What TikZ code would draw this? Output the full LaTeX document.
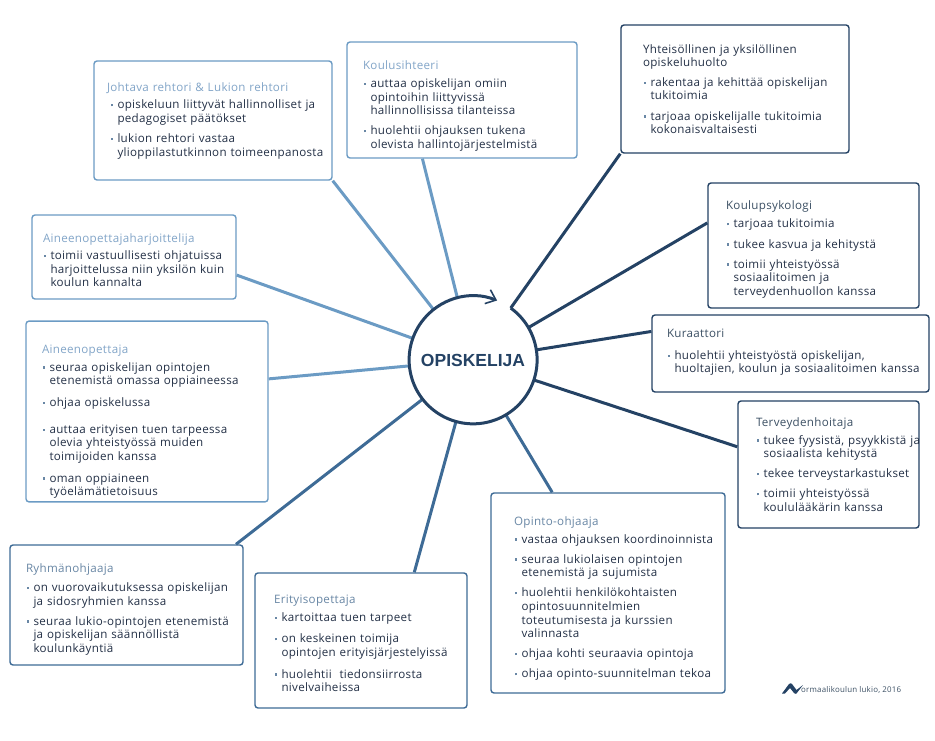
\documentclass[tikz,border=0pt]{standalone}
\usepackage{fontspec}
\setmainfont[LetterSpace=2.7]{Open Sans}
\newfontfamily\opisfont{Liberation Sans}
\usepackage{xcolor}
\definecolor{rolelight}{RGB}{107,155,196}
\definecolor{rolemid}{RGB}{62,107,150}
\definecolor{roledark}{RGB}{36,66,100}
\definecolor{titlelight}{RGB}{130,165,200}
\definecolor{titlemid}{RGB}{105,135,165}
\definecolor{titledark}{RGB}{60,80,100}
\definecolor{roletext}{RGB}{35,48,70}
\usetikzlibrary{arrows.meta,positioning,calc}
\newcommand{\bul}[1]{\mbox{\makebox[7.5pt][l]{\hspace*{0.5pt}\raisebox{2.5pt}{\textcolor{titlemid}{\rule{2.2pt}{2.2pt}}}}#1}}
\newcommand{\ind}[1]{\mbox{\hspace*{7.5pt}#1}}
\newcommand{\ttl}[3]{\mbox{\rule{0pt}{#1}\textcolor{#2}{#3}}}

\begin{document}
\begin{tikzpicture}[
  x=1pt,y=1pt,
  role/.style={draw,rounded corners=3pt,line width=1.4pt,fill=white,text=roletext,
    font=\fontsize{11.6}{13.6}\selectfont,align=left},
  spoke/.style={line width=3pt}
]
  \useasboundingbox (0,0) rectangle (935,740);
  % Center
  \node[circle,minimum size=128pt,inner sep=0pt,text=roledark,font=\fontsize{17.5}{20}\opisfont\bfseries] (opis) at (473,380) {OPISKELIJA};
  % Left column
  \node[role,draw=rolelight,minimum width=238pt,minimum height=119pt,inner xsep=16pt,text width=206pt] (rehtori) at (213,619.5) {
    \ttl{9pt}{titlelight}{\hspace*{-3pt}Johtava rehtori \& Lukion rehtori}\\[4pt]
    \bul{opiskeluun liittyvät hallinnolliset ja}\\
    \ind{pedagogiset päätökset}\\[6.5pt]
    \bul{lukion rehtori vastaa}\\
    \ind{ylioppilastutkinnon toimeenpanosta}
  };
  \node[role,draw=rolelight,minimum width=204pt,minimum height=84pt,inner xsep=11pt,text width=182pt] (harj) at (134,483) {
    \ttl{15pt}{titlelight}{Aineenopettajaharjoittelija}\\[4pt]
    \bul{toimii vastuullisesti ohjatuissa}\\
    \ind{harjoittelussa niin yksilön kuin}\\
    \ind{koulun kannalta}
  };
  \node[role,draw=rolelight,minimum width=242pt,minimum height=179pt,inner xsep=16pt,text width=210pt] (aine) at (147,328.5) {
    \ttl{29pt}{titlelight}{Aineenopettaja}\\[4pt]
    \bul{seuraa opiskelijan opintojen}\\
    \ind{etenemistä omassa oppiaineessa}\\[8pt]
    \bul{ohjaa opiskelussa}\\[13.5pt]
    \bul{auttaa erityisen tuen tarpeessa}\\
    \ind{olevia yhteistyössä muiden}\\
    \ind{toimijoiden kanssa}\\[8pt]
    \bul{oman oppiaineen}\\
    \ind{työelämätietoisuus}
  };
  \node[role,draw=rolemid,minimum width=233pt,minimum height=120pt,inner xsep=16pt,text width=201pt] (ryhma) at (126.5,135) {
    \ttl{18pt}{titlemid}{Ryhmänohjaaja}\\[5pt]
    \bul{on vuorovaikutuksessa opiskelijan}\\
    \ind{ja sidosryhmien kanssa}\\[6.5pt]
    \bul{seuraa lukio-opintojen etenemistä}\\
    \ind{ja opiskelijan säännöllistä}\\
    \ind{koulunkäyntiä}
  };
  \node[role,draw=rolemid,minimum width=212pt,minimum height=135pt,inner xsep=19pt,text width=174pt] (erit) at (361,99.5) {
    \ttl{14.5pt}{titlemid}{Erityisopettaja}\\[4pt]
    \bul{kartoittaa tuen tarpeet}\\[8pt]
    \bul{on keskeinen toimija}\\
    \ind{opintojen erityisjärjestelyissä}\\[8pt]
    \bul{huolehtii\ \ tiedonsiirrosta}\\
    \ind{nivelvaiheissa}
  };
  % Top
  \node[role,draw=rolelight,minimum width=230pt,minimum height=116pt,inner xsep=16pt,text width=198pt] (sihteeri) at (462,640) {
    \ttl{21pt}{titlelight}{Koulusihteeri}\\[4pt]
    \bul{auttaa opiskelijan omiin}\\
    \ind{opintoihin liittyvissä}\\
    \ind{hallinnollisissa tilanteissa}\\[6.5pt]
    \bul{huolehtii ohjauksen tukena}\\
    \ind{olevista hallintojärjestelmistä}
  };
  \node[role,draw=roledark,minimum width=228pt,minimum height=128pt,inner xsep=22pt,text width=184pt] (huolto) at (735,651) {
    \ttl{9pt}{roletext}{Yhteisöllinen ja yksilöllinen}\\
    \ttl{9pt}{roletext}{opiskeluhuolto}\\[6pt]
    \bul{rakentaa ja kehittää opiskelijan}\\
    \ind{tukitoimia}\\[6.5pt]
    \bul{tarjoaa opiskelijalle tukitoimia}\\
    \ind{kokonaisvaltaisesti}
  };
  % Right column
  \node[role,draw=roledark,minimum width=211pt,minimum height=125pt,inner xsep=18pt,text width=175pt] (psyk) at (813.5,494.5) {
    \ttl{17pt}{titledark}{Koulupsykologi}\\[4.5pt]
    \bul{tarjoaa tukitoimia}\\[6.5pt]
    \bul{tukee kasvua ja kehitystä}\\[6.5pt]
    \bul{toimii yhteistyössä}\\
    \ind{sosiaalitoimen ja}\\
    \ind{terveydenhuollon kanssa}
  };
  \node[role,draw=roledark,minimum width=277pt,minimum height=77pt,inner xsep=15pt,text width=247pt] (kura) at (790.5,386.5) {
    \ttl{9pt}{titledark}{Kuraattori}\\[8.5pt]
    \bul{huolehtii yhteistyöstä opiskelijan,}\\
    \ind{huoltajien, koulun ja sosiaalitoimen kanssa\rule[-6pt]{0pt}{0pt}}
  };
  \node[role,draw=roledark,minimum width=181pt,minimum height=127pt,inner xsep=18pt,text width=145pt] (terv) at (828.5,275.5) {
    \ttl{9pt}{titledark}{Terveydenhoitaja}\\[4pt]
    \bul{tukee fyysistä, psyykkistä ja}\\
    \ind{sosiaalista kehitystä}\\[6.5pt]
    \bul{tekee terveystarkastukset}\\[6.5pt]
    \bul{toimii yhteistyössä}\\
    \ind{koululääkärin kanssa}
  };
  \node[role,draw=rolemid,minimum width=234pt,minimum height=200pt,inner xsep=23pt,text width=188pt] (opo) at (608,147) {
    \ttl{20pt}{titlemid}{Opinto-ohjaaja}\\[4pt]
    \bul{vastaa ohjauksen koordinoinnista}\\[6.5pt]
    \bul{seuraa lukiolaisen opintojen}\\
    \ind{etenemistä ja sujumista}\\[6.5pt]
    \bul{huolehtii henkilökohtaisten}\\
    \ind{opintosuunnitelmien}\\
    \ind{toteutumisesta ja kurssien}\\
    \ind{valinnasta}\\[6.5pt]
    \bul{ohjaa kohti seuraavia opintoja}\\[6.5pt]
    \bul{ohjaa opinto-suunnitelman tekoa}
  };
  % Spokes
  \draw[spoke,rolelight] (rehtori.south east) -- (opis);
  \draw[spoke,rolelight] (sihteeri.236) -- (opis);
  \draw[spoke,rolelight] (harj.350) -- (opis);
  \draw[spoke,rolelight] (aine.15.5) -- (opis);
  \draw[spoke,rolemid] (ryhma.29) -- (opis);
  \draw[spoke,rolemid] (erit.52.4) -- (opis);
  \draw[spoke,rolemid] (opo.119.7) -- (opis);
  \draw[spoke,roledark] (terv.169) -- (opis);
  \draw[spoke,roledark] (kura.171.2) -- (opis);
  \draw[spoke,roledark] (psyk.168) -- (opis);
  \draw[spoke,roledark] (huolto.south west) -- (opis.54);
  % Ring with arrow
  \draw[roledark,line width=3pt,-{Straight Barb[length=9pt,width=15pt,line width=1.6pt]}] (opis.54) arc[start angle=54,delta angle=-346,radius=64pt];
  % Logo
  \fill[roledark] (782,46.5) -- (789,56) .. controls (790,57) and (791,57) .. (792,56) -- (796.5,50) -- (803,55) -- (796.5,46.5) .. controls (796,46) and (795,46) .. (794,47) -- (790,52) -- (785,46.5) -- cycle;
  \node[right,inner sep=0pt,text=titledark,font=\fontsize{7.9}{9}\selectfont] (logo) at (801,50) {ormaalikoulun lukio, 2016};
\end{tikzpicture}
\end{document}
